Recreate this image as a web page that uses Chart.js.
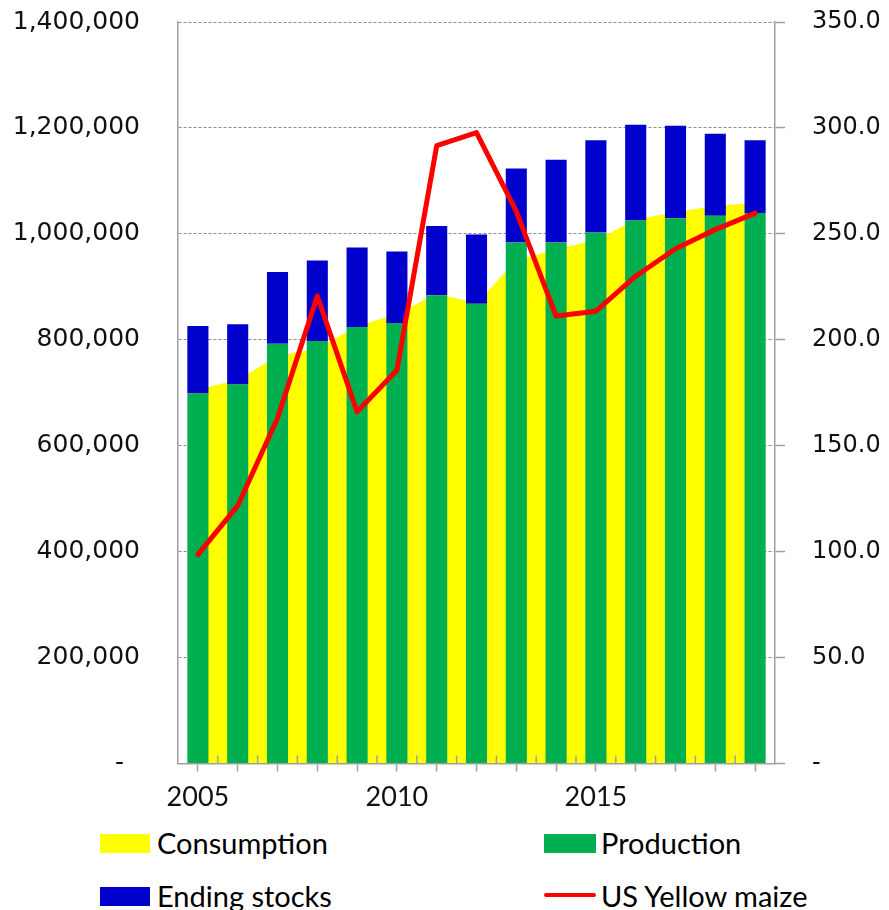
<!DOCTYPE html>
<html>
<head>
<meta charset="utf-8">
<script src="https://cdn.jsdelivr.net/npm/chart.js@4/dist/chart.umd.min.js"></script>
<style>
  body { margin: 0; background: #fff; }
  #wrap { position: relative; width: 889px; height: 910px; overflow: hidden; }
  #grafico { position: absolute; left: 0; top: -31px; }
  .sw { position: absolute; }
  .lbl { position: absolute; font-family: Lato, sans-serif; font-size: 29px; line-height: 34px; color: #000; white-space: nowrap; }
</style>
</head>
<body>
<div id="wrap">
  <canvas id="grafico" width="889" height="851"></canvas>
  <div class="sw" style="left:100px; top:834px; width:50px; height:19px; background:#FFFF00"></div>
  <div class="lbl" style="left:157px; top:826px">Consumption</div>
  <div class="sw" style="left:544px; top:834px; width:52px; height:19px; background:#00B050"></div>
  <div class="lbl" style="left:601px; top:826px">Production</div>
  <div class="sw" style="left:100px; top:887px; width:50px; height:19px; background:#0000CC"></div>
  <div class="lbl" style="left:157px; top:879px">Ending stocks</div>
  <div class="sw" style="left:544px; top:893px; width:52px; height:4px; border-radius:2px; background:#FF0000"></div>
  <div class="lbl" style="left:601px; top:879px">US Yellow maize</div>
</div>
<script>
const anos = ["2005", "2006", "2007", "2008", "2009", "2010", "2011", "2012", "2013", "2014", "2015", "2016", "2017", "2018", "2019"];
const producao = [698400, 715400, 792600, 797700, 824000, 831600, 884300, 867900, 983600, 983600, 1002400, 1025000, 1029300, 1034400, 1039300];
const estoques = [127500, 113700, 135600, 152000, 150100, 135000, 130500, 130700, 139900, 156300, 174400, 180800, 174600, 154500, 137500];
const consumo = [706500, 724200, 769400, 783700, 825400, 848500, 886700, 869200, 949900, 970900, 987900, 1026900, 1040600, 1052900, 1058900];
const precoMilho = [98.6, 121.7, 163, 220.6, 166, 185.6, 291.6, 297.8, 260.6, 211.2, 213.5, 230, 243, 252, 259.8];

const cinza = "#a0a0a0";
const ctx = document.getElementById("grafico").getContext("2d");

// ticks pequenos entre as barras, apontando pra cima
const ticksEntreBarras = {
  id: "ticksEntreBarras",
  afterDatasetsDraw(chart) {
    const x = chart.scales.x;
    const base = chart.chartArea.bottom;
    const c = chart.ctx;
    c.save();
    c.strokeStyle = cinza;
    c.lineWidth = 1.5;
    for (let i = 0; i < anos.length - 1; i++) {
      const px = (x.getPixelForValue(i) + x.getPixelForValue(i + 1)) / 2;
      c.beginPath();
      c.moveTo(px, base);
      c.lineTo(px, base - 8);
      c.stroke();
    }
    c.restore();
  }
};

new Chart(ctx, {
  data: {
    labels: anos,
    datasets: [
      {
        type: "line",
        label: "Consumption",
        data: consumo,
        backgroundColor: "#FFFF00",
        borderWidth: 0,
        pointRadius: 0,
        fill: "origin",
        tension: 0,
        stack: "consumo",
        yAxisID: "y",
        order: 3,
      },
      {
        type: "bar",
        label: "Production",
        data: producao,
        backgroundColor: "#00B050",
        stack: "barras",
        yAxisID: "y",
        categoryPercentage: 1,
        barPercentage: 0.53,
        order: 2,
      },
      {
        type: "bar",
        label: "Ending stocks",
        data: estoques,
        backgroundColor: "#0000CC",
        stack: "barras",
        yAxisID: "y",
        categoryPercentage: 1,
        barPercentage: 0.53,
        order: 2,
      },
      {
        type: "line",
        label: "US Yellow maize",
        data: precoMilho,
        borderColor: "#FF0000",
        borderWidth: 5,
        borderCapStyle: "round",
        borderJoinStyle: "round",
        pointRadius: 0,
        fill: false,
        tension: 0,
        yAxisID: "y2",
        order: 1,
      },
    ],
  },
  options: {
    responsive: false,
    animation: false,
    layout: { padding: { top: 20, left: 0, right: 0, bottom: 0 } },
    plugins: {
      legend: { display: false },
      tooltip: { enabled: false },
    },
    scales: {
      x: {
        stacked: true,
        offset: true,
        grid: { display: true, drawOnChartArea: false, drawTicks: true, tickLength: 8, offset: false, tickColor: cinza, tickWidth: 1.5 },
        border: { display: true, color: cinza, width: 1.5, z: 1 },
        ticks: {
          autoSkip: false,
          maxRotation: 0,
          padding: 10,
          color: "#111",
          font: { family: "Lato", size: 27 },
          callback: function (v) {
            const ano = this.getLabelForValue(v);
            return Number(ano) % 5 === 0 ? ano : "";
          },
        },
        afterFit: (s) => { s.height = 56.5; },
      },
      y: {
        stacked: true,
        position: "left",
        min: 0,
        max: 1400000,
        grid: { color: "#8c8c8c", lineWidth: 1, drawTicks: false },
        border: { display: true, color: cinza, width: 1.5, dash: [3, 2] },
        ticks: {
          stepSize: 200000,
          padding: 38,
          color: "#111",
          font: { family: "DejaVu Sans", size: 25 },
          callback: (v) => (v === 0 ? "-  " : v.toLocaleString("en-US")),
        },
        afterFit: (s) => { s.width = 178; },
      },
      y2: {
        position: "right",
        min: 0,
        max: 350,
        grid: { drawOnChartArea: false, drawTicks: true, tickLength: 10, tickColor: cinza, tickWidth: 1.5 },
        border: { display: true, color: cinza, width: 1.5 },
        ticks: {
          stepSize: 50,
          padding: 27,
          color: "#111",
          font: { family: "DejaVu Sans", size: 24 },
          callback: (v) => (v === 0 ? "-" : v.toFixed(1)),
        },
        afterFit: (s) => { s.width = 114; },
      },
    },
  },
  plugins: [ticksEntreBarras],
});
</script>
</body>
</html>
